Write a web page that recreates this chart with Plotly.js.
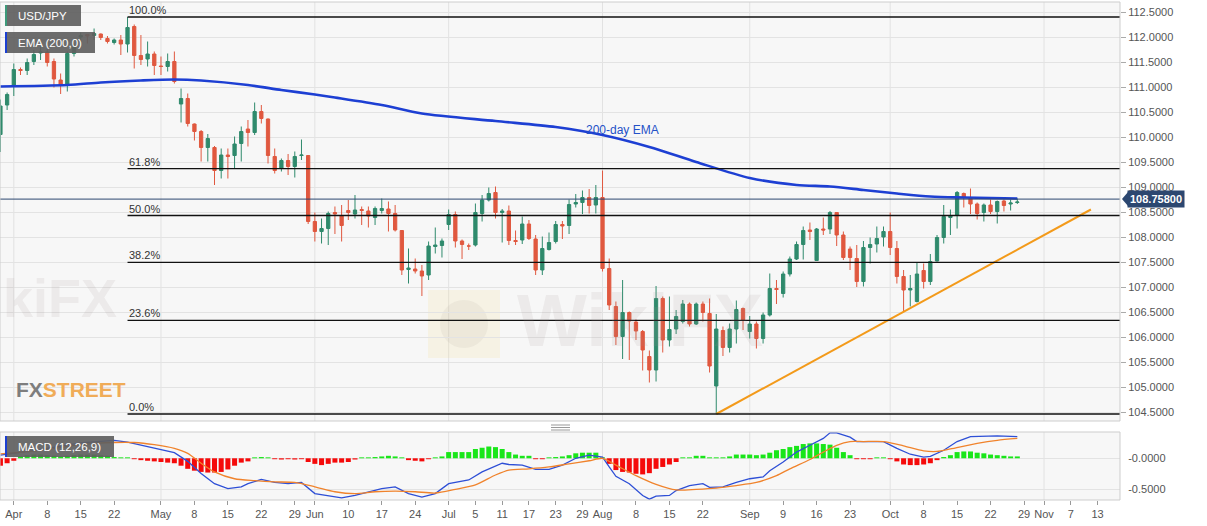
<!DOCTYPE html>
<html><head><meta charset="utf-8">
<script src="https://cdn.plot.ly/plotly-3.0.1.min.js"></script>
<style>html,body{margin:0;padding:0;background:#fff;}#chart{width:1207px;height:526px;}</style>
</head><body><div id="chart"></div>
<script>
// ---------------- DATA ----------------
const dates = [
'2019-03-28','2019-03-29',
'2019-04-01','2019-04-02','2019-04-03','2019-04-04','2019-04-05',
'2019-04-08','2019-04-09','2019-04-10','2019-04-11','2019-04-12',
'2019-04-15','2019-04-16','2019-04-17','2019-04-18','2019-04-19',
'2019-04-22','2019-04-23','2019-04-24','2019-04-25','2019-04-26',
'2019-04-29','2019-04-30','2019-05-01','2019-05-02','2019-05-03',
'2019-05-06','2019-05-07','2019-05-08','2019-05-09','2019-05-10',
'2019-05-13','2019-05-14','2019-05-15','2019-05-16','2019-05-17',
'2019-05-20','2019-05-21','2019-05-22','2019-05-23','2019-05-24',
'2019-05-27','2019-05-28','2019-05-29','2019-05-30','2019-05-31',
'2019-06-03','2019-06-04','2019-06-05','2019-06-06','2019-06-07',
'2019-06-10','2019-06-11','2019-06-12','2019-06-13','2019-06-14',
'2019-06-17','2019-06-18','2019-06-19','2019-06-20','2019-06-21',
'2019-06-24','2019-06-25','2019-06-26','2019-06-27','2019-06-28',
'2019-07-01','2019-07-02','2019-07-03','2019-07-04','2019-07-05',
'2019-07-08','2019-07-09','2019-07-10','2019-07-11','2019-07-12',
'2019-07-15','2019-07-16','2019-07-17','2019-07-18','2019-07-19',
'2019-07-22','2019-07-23','2019-07-24','2019-07-25','2019-07-26',
'2019-07-29','2019-07-30','2019-07-31','2019-08-01','2019-08-02',
'2019-08-05','2019-08-06','2019-08-07','2019-08-08','2019-08-09',
'2019-08-12','2019-08-13','2019-08-14','2019-08-15','2019-08-16',
'2019-08-19','2019-08-20','2019-08-21','2019-08-22','2019-08-23',
'2019-08-26','2019-08-27','2019-08-28','2019-08-29','2019-08-30',
'2019-09-02','2019-09-03','2019-09-04','2019-09-05','2019-09-06',
'2019-09-09','2019-09-10','2019-09-11','2019-09-12','2019-09-13',
'2019-09-16','2019-09-17','2019-09-18','2019-09-19','2019-09-20',
'2019-09-23','2019-09-24','2019-09-25','2019-09-26','2019-09-27',
'2019-09-30','2019-10-01','2019-10-02','2019-10-03','2019-10-04',
'2019-10-07','2019-10-08','2019-10-09','2019-10-10','2019-10-11',
'2019-10-14','2019-10-15','2019-10-16','2019-10-17','2019-10-18',
'2019-10-21','2019-10-22','2019-10-23','2019-10-24','2019-10-25',
'2019-10-28'];

const openP = [110.05,110.64,
111.04,111.35,111.33,111.51,111.68,
111.70,111.51,111.14,111.04,111.67,
112.00,112.05,112.03,112.06,111.97,
111.89,111.94,111.86,112.21,111.63,
111.56,111.66,111.42,111.41,111.51,
110.66,110.77,110.26,110.11,109.79,
109.79,109.33,109.64,109.63,109.87,
110.16,110.09,110.51,110.36,109.61,
109.37,109.53,109.41,109.63,109.63,
108.31,108.11,108.17,108.49,108.43,
108.53,108.46,108.55,108.52,108.39,
108.53,108.56,108.47,108.13,107.35,
107.36,107.32,107.24,107.81,107.83,
108.25,108.45,107.92,107.82,107.84,
108.47,108.74,108.89,108.49,108.52,
107.93,107.94,108.26,107.96,107.34,
107.75,107.91,108.25,108.23,108.66,
108.69,108.79,108.64,108.79,107.37,
106.61,106.01,106.49,106.30,106.11,
105.61,105.34,106.77,105.94,106.16,
106.31,106.66,106.26,106.66,106.47,
105.02,106.13,105.79,106.16,106.57,
106.11,106.26,105.97,106.44,106.97,
106.87,107.26,107.56,107.85,108.14,
107.53,108.16,108.16,108.49,108.04,
107.76,107.57,107.11,107.79,107.86,
108.00,108.11,107.77,107.21,106.94,
106.71,107.33,107.11,107.52,107.99,
108.39,108.44,108.87,108.77,108.66,
108.49,108.64,108.51,108.72,108.66,
108.69];

const highP = [110.75,110.89,
111.47,111.39,111.57,111.74,111.81,
111.77,111.57,111.27,111.71,111.87,
112.09,112.06,112.17,112.07,112.02,
111.97,112.04,112.40,112.25,112.04,
111.91,111.71,111.61,111.67,111.71,
110.97,110.87,110.27,110.14,110.06,
109.82,109.77,109.77,110.01,110.21,
110.34,110.69,110.64,110.37,109.77,
109.57,109.66,109.71,109.95,109.64,
108.49,108.37,108.51,108.61,108.64,
108.74,108.84,108.61,108.61,108.61,
108.77,108.71,108.64,108.14,107.77,
107.57,107.44,107.91,108.19,107.97,
108.55,108.51,107.95,107.87,108.67,
108.84,108.99,109.01,108.56,108.63,
108.13,108.41,108.34,108.04,108.01,
108.09,108.32,108.32,108.75,108.86,
108.93,108.96,109.04,109.33,107.57,
106.71,107.14,106.51,106.35,106.14,
105.73,107.02,106.81,106.81,106.54,
106.74,106.69,106.69,106.71,106.77,
106.46,106.21,106.27,106.73,106.59,
106.42,106.31,106.49,107.27,107.14,
107.31,107.61,107.91,108.21,108.29,
108.18,108.39,108.52,108.49,108.11,
107.81,107.84,107.92,107.99,108.21,
108.21,108.49,107.92,107.34,107.24,
107.49,107.47,107.66,108.04,108.64,
108.55,108.92,108.89,108.97,108.69,
108.67,108.75,108.73,108.75,108.75,
108.77];

const lowP = [109.70,110.54,
110.82,111.24,111.24,111.44,111.54,
111.41,110.99,110.86,110.91,111.61,
111.91,111.87,111.94,111.94,111.87,
111.85,111.64,111.69,111.37,111.44,
111.41,111.24,111.24,111.31,111.07,
110.29,110.21,109.93,109.51,109.51,
109.04,109.17,109.17,109.37,109.51,
109.81,110.04,110.27,109.47,109.27,
109.31,109.24,109.19,109.54,108.26,
107.91,107.87,107.84,108.06,107.91,
108.34,108.37,108.24,108.19,108.24,
108.47,108.11,108.11,107.24,107.07,
107.27,106.82,107.14,107.67,107.59,
108.14,107.79,107.56,107.74,107.81,
108.31,108.71,108.37,107.89,107.84,
107.84,107.86,107.94,107.24,107.24,
107.73,107.87,107.96,108.06,108.59,
108.46,108.47,108.47,107.31,106.54,
105.84,105.56,105.54,105.94,105.33,
105.09,105.11,105.69,105.81,106.06,
106.27,106.21,106.24,106.31,105.29,
104.46,105.62,105.69,105.87,106.14,
105.97,105.77,105.87,106.41,106.66,
106.79,107.21,107.54,107.55,107.94,
107.52,108.04,108.06,107.82,107.54,
107.34,107.00,107.01,107.47,107.69,
107.81,107.64,107.07,106.50,106.61,
106.69,106.97,107.04,107.51,107.87,
108.04,108.17,108.59,108.46,108.35,
108.31,108.46,108.27,108.51,108.53,
108.66];

const closeP = [110.62,110.85,
111.35,111.33,111.49,111.65,111.70,
111.49,111.16,111.04,111.67,111.79,
112.03,112.02,112.07,111.99,111.91,
111.94,111.86,112.19,111.63,111.55,
111.66,111.43,111.41,111.51,111.11,
110.77,110.27,110.11,109.79,109.97,
109.33,109.64,109.61,109.86,110.11,
110.09,110.51,110.37,109.63,109.33,
109.53,109.41,109.61,109.64,108.31,
108.11,108.17,108.47,108.46,108.23,
108.49,108.54,108.53,108.42,108.57,
108.57,108.47,108.14,107.34,107.38,
107.32,107.22,107.82,107.84,107.92,
108.45,107.92,107.85,107.82,108.49,
108.74,108.87,108.49,108.52,107.93,
107.91,108.26,107.97,107.34,107.77,
107.89,108.25,108.22,108.65,108.69,
108.79,108.63,108.79,107.37,106.64,
106.01,106.49,106.32,106.12,105.74,
105.34,106.77,105.94,106.15,106.41,
106.66,106.26,106.66,106.49,105.42,
106.16,105.79,106.16,106.55,106.34,
106.26,105.97,106.44,106.97,106.95,
107.26,107.56,107.85,108.13,108.11,
108.16,108.14,108.49,108.04,107.59,
107.59,107.11,107.79,107.85,107.97,
108.11,107.79,107.21,106.94,106.97,
107.26,107.11,107.51,107.99,108.41,
108.43,108.89,108.79,108.66,108.47,
108.64,108.51,108.71,108.63,108.68,
108.70];

const macdHist = [-0.12,-0.08,
-0.04,0.03,0.05,0.06,0.06,
0.05,0.04,0.03,0.04,0.05,
0.06,0.06,0.06,0.05,0.04,
0.02,0.015,0.015,-0.015,-0.03,
-0.04,-0.05,-0.06,-0.07,-0.08,
-0.12,-0.17,-0.20,-0.22,-0.23,
-0.23,-0.22,-0.18,-0.12,-0.07,
-0.05,0.015,0.02,0.015,-0.015,
-0.02,-0.015,-0.02,-0.015,-0.06,
-0.09,-0.11,-0.09,-0.07,-0.07,
-0.06,-0.02,0.015,0.015,0.02,
0.03,0.04,0.03,0.015,-0.03,
-0.04,-0.05,-0.015,0.015,0.03,
0.10,0.10,0.10,0.10,0.15,
0.17,0.19,0.18,0.15,0.10,
0.06,0.04,0.04,-0.015,-0.015,
0.015,0.02,0.03,0.05,0.08,
0.09,0.09,0.09,0.015,-0.09,
-0.19,-0.22,-0.23,-0.25,-0.26,
-0.24,-0.17,-0.14,-0.10,-0.06,
0.015,0.015,0.04,0.04,0.015,
0.015,0.015,0.03,0.06,0.06,
0.06,0.05,0.06,0.09,0.13,
0.15,0.18,0.20,0.23,0.24,
0.24,0.23,0.22,0.17,0.10,
0.05,-0.015,-0.015,-0.015,0.015,
0.015,-0.015,-0.05,-0.10,-0.11,
-0.11,-0.10,-0.08,-0.03,0.02,
0.05,0.10,0.11,0.11,0.09,
0.08,0.06,0.05,0.04,0.03,
0.03];

const emaDates = ['2019-03-28','2019-04-11','2019-04-18','2019-04-26','2019-05-03','2019-05-09','2019-05-20','2019-05-27','2019-06-03','2019-06-06','2019-06-17','2019-06-25','2019-07-10','2019-07-23','2019-08-01','2019-08-12','2019-08-21','2019-09-02','2019-09-11','2019-09-18','2019-09-25','2019-10-02','2019-10-09','2019-10-16','2019-10-28'];
const emaValues = [111.01,111.04,111.09,111.13,111.15,111.13,111.04,110.94,110.85,110.79,110.64,110.47,110.32,110.20,110.04,109.80,109.50,109.18,109.04,109.01,108.94,108.87,108.81,108.79,108.77];

const macdDates = ['2019-03-28','2019-04-01','2019-04-08','2019-04-15','2019-04-22','2019-04-24','2019-04-29','2019-05-01','2019-05-03','2019-05-07','2019-05-09','2019-05-13','2019-05-15','2019-05-17','2019-05-20','2019-05-22','2019-05-24','2019-05-28','2019-05-30','2019-06-03','2019-06-05','2019-06-07','2019-06-11','2019-06-13','2019-06-17','2019-06-19','2019-06-21','2019-06-25','2019-06-27','2019-07-01','2019-07-04','2019-07-08','2019-07-11','2019-07-12','2019-07-16','2019-07-18','2019-07-22','2019-07-24','2019-07-26','2019-07-30','2019-08-01','2019-08-02','2019-08-05','2019-08-07','2019-08-09','2019-08-12','2019-08-13','2019-08-15','2019-08-16','2019-08-20','2019-08-22','2019-08-23','2019-08-27','2019-08-29','2019-09-02','2019-09-04','2019-09-05','2019-09-09','2019-09-11','2019-09-13','2019-09-17','2019-09-18','2019-09-19','2019-09-23','2019-09-24','2019-09-26','2019-09-30','2019-10-02','2019-10-04','2019-10-08','2019-10-09','2019-10-11','2019-10-15','2019-10-17','2019-10-21','2019-10-23','2019-10-28'];
const macdValues = [0.05,0.08,0.16,0.25,0.29,0.26,0.19,0.136,0.09,-0.05,-0.245,-0.41,-0.49,-0.46,-0.41,-0.34,-0.39,-0.41,-0.39,-0.57,-0.61,-0.64,-0.60,-0.54,-0.49,-0.46,-0.57,-0.625,-0.57,-0.41,-0.35,-0.22,-0.08,-0.10,-0.11,-0.18,-0.18,-0.11,0.00,0.05,0.02,-0.14,-0.29,-0.41,-0.60,-0.66,-0.61,-0.60,-0.52,-0.44,-0.41,-0.47,-0.46,-0.39,-0.33,-0.30,-0.20,-0.06,0.10,0.21,0.32,0.41,0.41,0.34,0.27,0.27,0.27,0.16,0.065,0.02,0.03,0.13,0.27,0.35,0.36,0.36,0.35];

const signalDates = ['2019-03-28','2019-04-08','2019-04-15','2019-04-22','2019-04-25','2019-04-30','2019-05-03','2019-05-07','2019-05-09','2019-05-13','2019-05-16','2019-05-21','2019-05-24','2019-05-29','2019-06-03','2019-06-06','2019-06-11','2019-06-14','2019-06-19','2019-06-24','2019-06-27','2019-07-02','2019-07-05','2019-07-10','2019-07-12','2019-07-17','2019-07-22','2019-07-25','2019-07-30','2019-08-01','2019-08-05','2019-08-08','2019-08-13','2019-08-16','2019-08-21','2019-08-26','2019-08-29','2019-09-03','2019-09-06','2019-09-10','2019-09-13','2019-09-17','2019-09-19','2019-09-23','2019-09-25','2019-09-30','2019-10-03','2019-10-08','2019-10-10','2019-10-14','2019-10-18','2019-10-23','2019-10-28'];
const signalValues = [0.07,0.14,0.22,0.255,0.255,0.22,0.16,0.08,-0.08,-0.22,-0.33,-0.36,-0.38,-0.39,-0.46,-0.54,-0.57,-0.54,-0.53,-0.54,-0.56,-0.50,-0.43,-0.27,-0.19,-0.17,-0.14,-0.09,-0.04,0.00,-0.11,-0.28,-0.42,-0.51,-0.50,-0.48,-0.44,-0.39,-0.28,-0.17,-0.02,0.10,0.21,0.27,0.27,0.27,0.20,0.12,0.11,0.15,0.24,0.29,0.32];

const fibRatios = [0, 0.236, 0.382, 0.5, 0.618, 1];
const fibLabels = ['0.0%', '23.6%', '38.2%', '50.0%', '61.8%', '100.0%'];
const swingLow = 104.46, swingHigh = 112.40, fibStartDate = '2019-04-24';

const trendDates = ['2019-08-26', '2019-11-12'];
const trendValues = [104.46, 108.55];

const lastEma = 108.758;

const tickDates = ['2019-04-01','2019-04-08','2019-04-15','2019-04-22','2019-05-01','2019-05-08','2019-05-15','2019-05-22','2019-05-29','2019-06-03','2019-06-10','2019-06-17','2019-06-24','2019-07-01','2019-07-05','2019-07-11','2019-07-17','2019-07-23','2019-07-29','2019-08-01','2019-08-08','2019-08-15','2019-08-22','2019-09-02','2019-09-09','2019-09-16','2019-09-23','2019-10-01','2019-10-08','2019-10-15','2019-10-22','2019-10-29','2019-11-01','2019-11-07','2019-11-13'];
const tickText = ['Apr','8','15','22','May','8','15','22','29','Jun','10','17','24','Jul','5','11','17','23','29','Aug','8','15','22','Sep','9','16','23','Oct','8','15','22','29','Nov','7','13'];
const monthStarts = ['2019-04-01','2019-05-01','2019-06-03','2019-07-01','2019-08-01','2019-09-02','2019-10-01','2019-11-01'];

// ---------------- STYLE / LAYOUT ----------------
const noon = d => d + ' 12:00';
const W = 1207, H = 526, ML = 0, MR = 87, MT = 2, MB = 26;
const plotW = W - ML - MR, plotH = H - MT - MB;
const px = x => (x - ML) / plotW;
const py = y => (H - MB - y) / plotH;

const INC = '#2f8a6c', DEC = '#e0583f';
const FONT = 'Liberation Sans, Arial, sans-serif';
const xRange = ['2019-03-28 10:29', '2019-11-18 20:24'];
const mainDom = [py(421), 1];
const macdDom = [0, py(432)];

const traces = [
  {type:'candlestick', x:dates.map(noon), open:openP, high:highP, low:lowP, close:closeP,
   increasing:{line:{color:INC, width:1}, fillcolor:INC},
   decreasing:{line:{color:DEC, width:1}, fillcolor:DEC},
   whiskerwidth:0, hoverinfo:'skip', xaxis:'x', yaxis:'y', showlegend:false},
  {type:'scatter', mode:'lines', x:emaDates.map(noon), y:emaValues,
   line:{color:'#1d3fd3', width:2.6, shape:'spline', smoothing:0.8}, hoverinfo:'skip', xaxis:'x', yaxis:'y'},
  {type:'scatter', mode:'lines', x:trendDates.map(noon), y:trendValues,
   line:{color:'#f39a1a', width:2}, hoverinfo:'skip', xaxis:'x', yaxis:'y'},
  {type:'bar', x:dates.map(noon), y:macdHist,
   marker:{color:macdHist.map(v => v >= 0 ? '#19e619' : '#f50a0a'), line:{width:0}},
   hoverinfo:'skip', xaxis:'x', yaxis:'y2'},
  {type:'scatter', mode:'lines', x:macdDates.map(noon), y:macdValues,
   line:{color:'#2e4fd6', width:1.3}, hoverinfo:'skip', xaxis:'x', yaxis:'y2'},
  {type:'scatter', mode:'lines', x:signalDates.map(noon), y:signalValues,
   line:{color:'#f0832c', width:1.3, shape:'spline', smoothing:0.7}, hoverinfo:'skip', xaxis:'x', yaxis:'y2'}
];

const shapes = [];
const annotations = [];

// month gridlines in both panels
monthStarts.forEach(m => {
  ['y domain','y2 domain'].forEach(yr => shapes.push({type:'line', xref:'x', yref:yr,
    x0:noon(m), x1:noon(m), y0:0, y1:1, line:{color:'#e2e2e2', width:1}, layer:'below'}));
});

// watermark icon
shapes.push({type:'rect', xref:'paper', yref:'paper', x0:px(428), x1:px(500), y0:py(358), y1:py(290),
  fillcolor:'rgba(245,215,130,0.16)', line:{width:0}, layer:'below'});
shapes.push({type:'circle', xref:'paper', yref:'paper', x0:px(440), x1:px(488), y0:py(348), y1:py(300),
  fillcolor:'rgba(160,150,140,0.10)', line:{width:0}, layer:'below'});

// fibonacci levels
fibRatios.forEach((r, i) => {
  const lvl = swingLow + r * (swingHigh - swingLow);
  shapes.push({type:'line', xref:'x', yref:'y', x0:noon(fibStartDate), x1:xRange[1], y0:lvl, y1:lvl,
    line:{color:'#111', width:1.3}, layer:'above'});
  annotations.push({xref:'x', yref:'y', x:noon(fibStartDate), y:lvl, xanchor:'left', yanchor:'bottom',
    text:fibLabels[i], showarrow:false, font:{family:FONT, size:11, color:'#333'}, xshift:-1, yshift:-1});
});

// last EMA level line and tag
shapes.push({type:'line', xref:'paper', yref:'y', x0:0, x1:1, y0:lastEma, y1:lastEma,
  line:{color:'#2c4770', width:1}, layer:'above'});
shapes.push({type:'path', xref:'paper', xsizemode:'pixel', xanchor:1, yref:'y', ysizemode:'pixel', yanchor:lastEma,
  path:'M 2,0 L 8,7 L 8,-7 Z', fillcolor:'#2c4770', line:{width:0}});
annotations.push({xref:'paper', yref:'y', x:1, y:lastEma, xanchor:'left', yanchor:'middle', xshift:7,
  text:'<b>' + lastEma.toFixed(5) + '</b>', showarrow:false, bgcolor:'#2c4770', borderpad:2,
  font:{family:FONT, size:11, color:'#fff'}});

// panel borders
shapes.push({type:'rect', xref:'paper', yref:'paper', x0:0, x1:1, y0:mainDom[0], y1:mainDom[1], line:{color:'#cdcdcd', width:1}, layer:'above'});
shapes.push({type:'rect', xref:'paper', yref:'paper', x0:0, x1:1, y0:macdDom[0], y1:macdDom[1], line:{color:'#cdcdcd', width:1}, layer:'above'});

// separator handle
[425, 427.5, 430].forEach(y => shapes.push({type:'line', xref:'paper', yref:'paper', x0:px(551), x1:px(570), y0:py(y), y1:py(y), line:{color:'#999', width:1}}));

// legend boxes
const boxes = [
  {t:'USD/JPY', x0:5, x1:81, y0:5, y1:26, c:'#3d9a7a'},
  {t:'EMA (200,0)', x0:5, x1:95, y0:32, y1:53, c:'#1b3fd1'},
  {t:'MACD (12,26,9)', x0:5, x1:114, y0:436, y1:457, c:'#1b3fd1'}
];
boxes.forEach(b => {
  shapes.push({type:'rect', xref:'paper', yref:'paper', x0:px(b.x0), x1:px(b.x1), y0:py(b.y1), y1:py(b.y0),
    fillcolor:'rgba(95,95,95,0.92)', line:{width:0}, layer:'above'});
  shapes.push({type:'rect', xref:'paper', yref:'paper', x0:px(b.x0), x1:px(b.x0 + 2), y0:py(b.y1), y1:py(b.y0),
    fillcolor:b.c, line:{width:0}, layer:'above'});
  annotations.push({xref:'paper', yref:'paper', x:px(16), y:py((b.y0 + b.y1) / 2), xanchor:'left', yanchor:'middle',
    text:b.t, showarrow:false, font:{family:FONT, size:11.5, color:'#fff'}});
});

// text labels
annotations.push({xref:'x', yref:'y', x:noon('2019-08-06'), y:110.14, text:'200-day EMA', showarrow:false,
  font:{family:FONT, size:12, color:'#2451c7'}});
annotations.push({xref:'paper', yref:'paper', x:px(14), y:py(389), xanchor:'left', yanchor:'middle', showarrow:false,
  text:'<b><span style="color:#7e7e7e">FX</span><span style="color:#f0ac58">STREET</span></b>',
  font:{family:FONT, size:21}});
// watermarks
annotations.push({xref:'paper', yref:'paper', x:px(640), y:py(320), showarrow:false, text:'<b>WikiFX</b>',
  font:{family:FONT, size:74, color:'rgba(165,150,145,0.13)'}});
annotations.push({xref:'paper', yref:'paper', x:px(1), y:py(298), xanchor:'left', showarrow:false, text:'<b>kiFX</b>',
  font:{family:FONT, size:54, color:'rgba(165,150,145,0.13)'}});

const layout = {
  width:W, height:H, margin:{l:ML, r:MR, t:MT, b:MB},
  paper_bgcolor:'#ffffff', plot_bgcolor:'#f7f7f7',
  showlegend:false, hovermode:false, bargap:0.25,
  font:{family:FONT, size:11, color:'#555'},
  xaxis:{type:'date', anchor:'y2', range:xRange, rangebreaks:[{bounds:['sat','mon']}],
    rangeslider:{visible:false}, tickmode:'array', tickvals:tickDates.map(noon), ticktext:tickText,
    ticks:'outside', ticklen:4, tickcolor:'#999', showgrid:false, zeroline:false, showline:false,
    tickfont:{family:FONT, size:11, color:'#555'}, fixedrange:true},
  yaxis:{domain:mainDom, anchor:'x', side:'right', range:[104.32, 112.70], dtick:0.5, tick0:0,
    tickformat:'.4f', showgrid:true, gridcolor:'#e3e3e3', zeroline:false, ticks:'outside', ticklen:5,
    tickcolor:'#aaa', tickfont:{family:FONT, size:11, color:'#555'}, fixedrange:true},
  yaxis2:{domain:macdDom, anchor:'x', side:'right', range:[-0.673, 0.424], tickmode:'array',
    tickvals:[0, -0.5], ticktext:['-0.0000', '-0.5000'], showgrid:true, gridcolor:'#e3e3e3', zeroline:false,
    ticks:'outside', ticklen:5, tickcolor:'rgba(0,0,0,0)', tickfont:{family:FONT, size:11, color:'#555'}, fixedrange:true},
  shapes:shapes, annotations:annotations
};

Plotly.newPlot('chart', traces, layout, {displayModeBar:false, staticPlot:true});
</script>
</body></html>
